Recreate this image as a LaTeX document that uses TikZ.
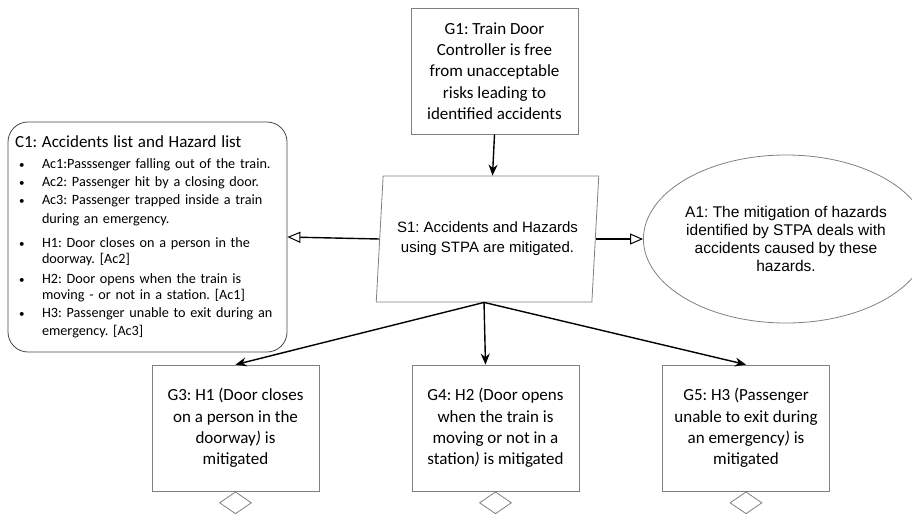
\documentclass[tikz,border=0pt]{standalone}
\usepackage{fontspec}
\setmainfont{Carlito}
\newfontfamily\tahoma{Liberation Sans}
\usepackage{xcolor}
\usetikzlibrary{arrows.meta, shapes, shapes.geometric, positioning, calc}
\definecolor{boxgray}{RGB}{128,128,128}
\definecolor{roundgray}{RGB}{70,70,70}
\tikzstyle{goal} = [draw=boxgray, line width=0.8pt, minimum width=167pt, minimum height=126pt, inner sep=0pt, align=center, font=\fontsize{17}{21.3}\selectfont]
\tikzstyle{strategy} = [draw=boxgray, line width=0.8pt, trapezium, trapezium left angle=80, trapezium right angle=100, trapezium stretches=true, minimum width=223pt, minimum height=126pt, inner sep=0pt, align=center, font=\tahoma\fontsize{15}{20}\selectfont]
\tikzstyle{context} = [draw=roundgray, line width=0.8pt, rounded corners=20pt, text width=265pt, minimum height=230pt, inner sep=7pt, align=left, font=\fontsize{14.2}{18}\selectfont]
\tikzstyle{assumption} = [draw=boxgray, line width=0.8pt, ellipse, minimum width=250pt, minimum height=168pt, inner sep=0pt, align=center, font=\tahoma\fontsize{15.5}{18}\selectfont]
\tikzstyle{undev} = [draw=boxgray, line width=0.8pt, diamond, minimum width=32pt, minimum height=22pt, inner sep=0pt]
\tikzstyle{arrow} = [line width=1.4pt, -{Stealth[length=11pt,width=9pt]}]
\tikzstyle{ctxarrow} = [line width=1.4pt, -{Triangle[open,length=13pt,width=11pt,line width=1pt]}]
\newcommand{\blt}{\makebox[27pt][l]{\hspace{4pt}{\fontsize{11}{11}\selectfont\textbullet}}}
\newcommand{\cnt}{\hspace*{27pt}}

\begin{document}
\frenchspacing
\begin{tikzpicture}[x=1pt, y=-1pt]
  \useasboundingbox (0,0) rectangle (912,514);

  % goals
  \node[goal] (G1) at (494.5,71) {G1: Train Door\\Controller is free\\from unacceptable\\risks leading to\\identified accidents};
  \node[goal] (G3) at (235.5,428) {G3: H1 (Door closes\\on a person in the\\doorway\textit{)} is\\mitigated};
  \node[goal] (G4) at (495.5,428) {G4: H2 (Door opens\\when the train is\\moving or not in a\\station\textit{)} is mitigated};
  \node[goal] (G5) at (746,428) {G5: H3 (Passenger\\unable to exit during\\an emergency\textit{)} is\\mitigated};

  % strategy, context, assumption
  \node[strategy] (S1) at (487.5,239) {S1: Accidents and Hazards\\using STPA are mitigated.};
  \node[context] (C1) at (147.5,237) {%
    {\fontsize{17}{18}\selectfont C1: Accidents list and Hazard list}\\[3pt]
    \blt Ac1:Passsenger falling out of the train.\\
    \blt Ac2: Passenger hit by a closing door.\\
    \blt Ac3: Passenger trapped inside a train\\[1pt]
    \cnt during an emergency.\\[6pt]
    \blt H1: Door closes on a person in the\\[-2pt]
    \cnt doorway. [Ac2]\\[2pt]
    \blt H2: Door opens when the train is\\[-2pt]
    \cnt moving - or not in a station. [Ac1]\\
    \blt H3: Passenger unable to exit during an\\
    \cnt emergency. [Ac3]};
  \node[assumption] (A1) at (786,239) {A1: The mitigation of hazards\\identified by STPA deals with\\accidents caused by these\\hazards.};

  % undeveloped marks
  \node[undev, below=0pt of G3] (U3) {};
  \node[undev, below=0pt of G4] (U4) {};
  \node[undev, below=0pt of G5] (U5) {};

  % connectors
  \draw[arrow] (G1.south) -- ([xshift=5pt]S1.north);
  \draw[ctxarrow] (S1.left side) -- (C1.east);
  \draw[ctxarrow] (S1.right side) -- (A1.west);
  \draw[arrow] (S1.bottom side) -- (G3.north);
  \draw[arrow] (S1.bottom side) -- ([xshift=-10pt]G4.north);
  \draw[arrow] (S1.bottom side) -- (G5.north);
\end{tikzpicture}
\end{document}
